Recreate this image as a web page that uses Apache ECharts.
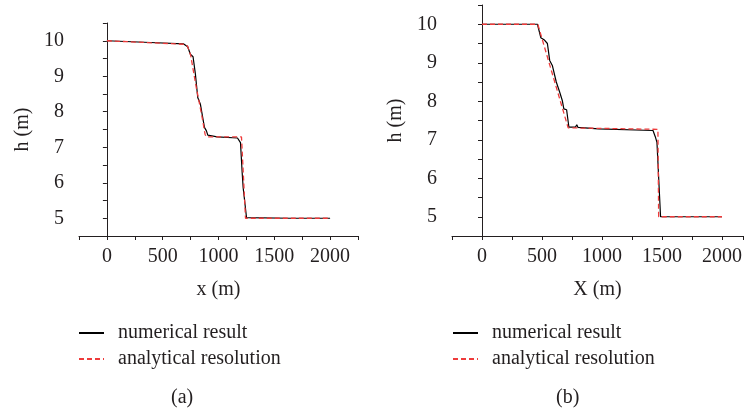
<!DOCTYPE html>
<html>
<head>
<meta charset="utf-8">
<script src="https://cdn.jsdelivr.net/npm/echarts@6/dist/echarts.min.js"></script>
<style>
html,body{margin:0;padding:0;background:#fff;}
#chart{width:746px;height:415px;}
</style>
</head>
<body>
<div id="chart"></div>
<script>
// Panel (a)
const aNumX = [0, 390, 688, 724, 748, 772, 793, 814, 838, 874, 892, 904, 988, 1170, 1197, 1206, 1212, 1221, 1251, 1646, 2000];
const aNumH = [10, 9.95, 9.91, 9.83, 9.62, 9.55, 9.06, 8.40, 8.21, 7.56, 7.46, 7.34, 7.29, 7.26, 7.13, 7.09, 6.29, 5.86, 5.02, 5.0, 5.0];
const aAnaX = [0, 700, 722, 750, 800, 850, 880, 892, 1206, 1242, 2000];
const aAnaH = [10, 9.9, 9.85, 9.6, 8.7, 7.9, 7.36, 7.29, 7.29, 5.0, 5.0];
// Panel (b)
const bNumX = [0, 462, 490, 517, 545, 564, 586, 619, 647, 669, 682, 705, 724, 779, 790, 800, 971, 1425, 1444, 1458, 1488, 2000];
const bNumH = [10, 10, 9.65, 9.60, 9.50, 9.06, 8.93, 8.50, 8.24, 8.02, 7.80, 7.78, 7.33, 7.33, 7.39, 7.32, 7.28, 7.24, 7.08, 6.93, 5.0, 5.0];
const bAnaX = [0, 465, 718, 1466, 1472, 2000];
const bAnaH = [10, 10, 7.31, 7.27, 5.0, 5.0];

const xTickLabels = ['0', '500', '1000', '1500', '2000'];
const yTickLabels = ['5', '6', '7', '8', '9', '10'];
const seriesNames = ['numerical result', 'analytical resolution'];
const panelLabels = ['(a)', '(b)'];
const xNames = ['x (m)', 'X (m)'];
const xMax = [2250, 2175];

function pairs(xs, ys) { return xs.map((x, i) => [x, ys[i]]); }

const FONT = 'Liberation Serif';
const FS = 20;
const TXT = '#231f20';

function xAxis(idx) {
  return {
    type: 'value', gridIndex: idx, min: -250, max: xMax[idx], interval: 250,
    name: xNames[idx], nameLocation: 'middle', nameGap: 44,
    nameTextStyle: { fontFamily: FONT, fontSize: FS, color: TXT },
    axisLine: { show: true, lineStyle: { color: '#231f20', width: 1 } },
    axisTick: { show: true, length: 4, inside: false, lineStyle: { color: '#231f20' } },
    splitLine: { show: false },
    axisLabel: {
      margin: 11, fontFamily: FONT, fontSize: FS, color: TXT,
      formatter: v => xTickLabels.indexOf(String(v)) >= 0 ? String(v) : ''
    }
  };
}
function yAxis(idx) {
  return {
    type: 'value', gridIndex: idx, min: 4.5, max: 10.5, interval: 0.5,
    name: 'h (m)', nameLocation: 'middle', nameGap: 46,
    nameTextStyle: { fontFamily: FONT, fontSize: FS, color: TXT },
    axisLine: { show: true, lineStyle: { color: '#231f20', width: 1 } },
    axisTick: { show: true, length: 4, inside: false, lineStyle: { color: '#231f20' } },
    splitLine: { show: false },
    axisLabel: {
      margin: 15, fontFamily: FONT, fontSize: FS, color: TXT,
      formatter: v => yTickLabels.indexOf(String(v)) >= 0 ? String(v) : ''
    }
  };
}

const RED = '#ee3b3b';
const numStyle = { color: '#000000', width: 1.2, type: 'solid' };
const anaStyle = { color: RED, width: 1.3, type: [5, 3] };

function legend(left) {
  return {
    left: left, top: 323, padding: 0, orient: 'vertical', itemWidth: 25, itemHeight: 20, itemGap: 6,
    selectedMode: false,
    itemStyle: { opacity: 0 },
    textStyle: { fontFamily: FONT, fontSize: FS, color: TXT, padding: [0, 0, 0, 9] },
    data: seriesNames
  };
}

const chart = echarts.init(document.getElementById('chart'), null, { renderer: 'canvas' });
chart.setOption({
  animation: false,
  backgroundColor: '#ffffff',
  grid: [
    { left: 79, top: 23, width: 279, height: 213 },
    { left: 452, top: 5, width: 294, height: 231 }
  ],
  xAxis: [xAxis(0), xAxis(1)],
  yAxis: [yAxis(0), yAxis(1)],
  legend: [legend(78), legend(452)],
  graphic: [
    { type: 'text', left: 171, top: 388, style: { text: panelLabels[0], font: '20px "Liberation Serif"', fill: TXT } },
    { type: 'text', left: 556, top: 388, style: { text: panelLabels[1], font: '20px "Liberation Serif"', fill: TXT } }
  ],
  series: [
    { name: seriesNames[0], type: 'line', xAxisIndex: 0, yAxisIndex: 0, symbol: 'none', lineStyle: numStyle, itemStyle: { color: '#000' }, data: pairs(aNumX, aNumH) },
    { name: seriesNames[1], type: 'line', xAxisIndex: 0, yAxisIndex: 0, symbol: 'none', lineStyle: anaStyle, itemStyle: { color: RED }, data: pairs(aAnaX, aAnaH) },
    { name: seriesNames[0], type: 'line', xAxisIndex: 1, yAxisIndex: 1, symbol: 'none', lineStyle: numStyle, itemStyle: { color: '#000' }, data: pairs(bNumX, bNumH) },
    { name: seriesNames[1], type: 'line', xAxisIndex: 1, yAxisIndex: 1, symbol: 'none', lineStyle: anaStyle, itemStyle: { color: RED }, data: pairs(bAnaX, bAnaH) }
  ]
});
</script>
</body>
</html>
